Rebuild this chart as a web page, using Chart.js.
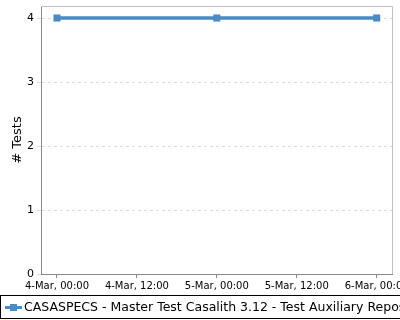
<!DOCTYPE html>
<html><head><meta charset="utf-8">
<script src="https://cdn.jsdelivr.net/npm/chart.js@4/dist/chart.umd.min.js"></script>
<style>
html,body{margin:0;padding:0;background:#fff;overflow:hidden;}
#wrap{position:relative;width:400px;height:320px;}
#legend{position:absolute;left:0;top:295px;height:24px;width:420px;border:1px solid #000;box-sizing:border-box;font-family:"DejaVu Sans";font-size:12.5px;line-height:21px;white-space:nowrap;color:#000;}
#lm{position:absolute;left:4px;top:10px;width:17px;height:3px;background:#4a8bc4;}
#lm2{position:absolute;left:9px;top:8px;width:7px;height:7px;background:#4a8bc4;}
#lt{position:absolute;left:23px;top:0;}
</style></head>
<body><div id="wrap"><canvas id="c" width="400" height="320"></canvas>
<div id="legend"><div id="lm"></div><div id="lm2"></div><span id="lt"></span></div></div>
<script>
const seriesName = "CASASPECS - Master Test Casalith 3.12 - Test Auxiliary Repository";
const hours = [0, 24, 48];
const tests = [4, 4, 4];
const xTickValues = [0, 12, 24, 36, 48];
const xTickLabels = ["4-Mar, 00:00", "4-Mar, 12:00", "5-Mar, 00:00", "5-Mar, 12:00", "6-Mar, 00:00"];
const yTickValues = [0, 1, 2, 3, 4];

document.getElementById('lt').textContent = seriesName;
const blue = '#4a8bc4';
const frame = {
  id: 'frame',
  afterDraw(chart) {
    const a = chart.chartArea, ctx = chart.ctx;
    ctx.save();
    ctx.strokeStyle = '#c0c0c0'; ctx.lineWidth = 1;
    ctx.beginPath();
    ctx.moveTo(a.left, a.top + 0.5); ctx.lineTo(a.right + 0.5, a.top + 0.5); ctx.lineTo(a.right + 0.5, a.bottom);
    ctx.stroke();
    ctx.restore();
  }
};
new Chart(document.getElementById('c'), {
  type: 'line',
  data: { datasets: [{
    label: seriesName,
    data: hours.map((h, i) => ({x: h, y: tests[i]})),
    borderColor: blue, backgroundColor: blue, borderWidth: 3.5,
    pointStyle: 'rect', pointRadius: 5, pointHoverRadius: 5, pointBorderWidth: 0,
    tension: 0
  }]},
  options: {
    responsive: false, animation: false,
    layout: { padding: { top: 6, right: 8, left: 0, bottom: 0 } },
    plugins: { legend: { display: false }, tooltip: { enabled: false } },
    scales: {
      x: {
        type: 'linear', min: -2.4, max: 50.3,
        afterBuildTicks: s => { s.ticks = xTickValues.map(v => ({value: v})); },
        afterFit: s => { s.height = 46; s.paddingLeft = 0; s.paddingRight = 0; },
        ticks: { callback: (v) => xTickLabels[xTickValues.indexOf(v)], maxRotation: 0, autoSkip: false, color: '#000', font: { family: 'DejaVu Sans', size: 10 }, padding: 2 },
        grid: { drawOnChartArea: false, tickLength: 4, color: '#888' },
        border: { color: '#888' }
      },
      y: {
        min: 0, max: 4.1875,
        afterBuildTicks: s => { s.ticks = yTickValues.map(v => ({value: v})); },
        afterFit: s => { s.width = 41; s.paddingTop = 0; s.paddingBottom = 0; },
        ticks: { color: '#000', font: { family: 'DejaVu Sans', size: 11 }, padding: 3 },
        grid: { color: '#dcdcdc', tickLength: 4, tickColor: '#dcdcdc' },
        border: { color: '#888', dash: [3, 3] },
        title: { display: true, text: '# Tests', color: '#000', font: { family: 'DejaVu Sans', size: 13 }, padding: { top: 10, bottom: 0 } }
      }
    }
  },
  plugins: [frame]
});
</script></body></html>
